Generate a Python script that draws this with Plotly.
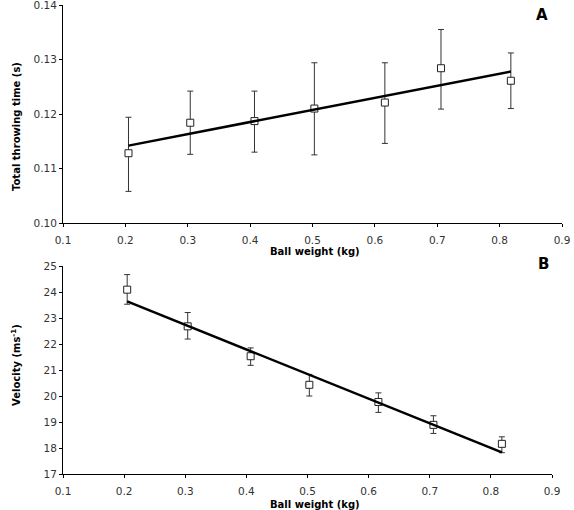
import plotly.graph_objects as go

# Ball weights (kg), shared by both panels
ball_kg = [0.205, 0.304, 0.407, 0.503, 0.616, 0.706, 0.818]

# Panel A: total throwing time (s)
t_mean = [0.1128, 0.1184, 0.1187, 0.1210, 0.1221, 0.1284, 0.1261]
t_up = [0.1194, 0.1242, 0.1242, 0.1294, 0.1294, 0.1355, 0.1312]
t_lo = [0.1058, 0.1126, 0.1130, 0.1125, 0.1146, 0.1209, 0.1210]
trend_a_y = [0.1142, 0.1278]

# Panel B: velocity (m/s)
v_mean = [24.09, 22.68, 21.53, 20.43, 19.77, 18.89, 18.16]
v_up = [24.67, 23.21, 21.85, 20.83, 20.12, 19.24, 18.43]
v_lo = [23.53, 22.19, 21.18, 20.00, 19.37, 18.56, 17.82]
trend_b_y = [23.64, 17.83]

x_ticks = [0.1, 0.2, 0.3, 0.4, 0.5, 0.6, 0.7, 0.8, 0.9]
x_ticklabels = ["0.1", "0.2", "0.3", "0.4", "0.5", "0.6", "0.7", "0.8", "0.9"]
ya_ticks = [0.10, 0.11, 0.12, 0.13, 0.14]
ya_ticklabels = ["0.10", "0.11", "0.12", "0.13", "0.14"]
yb_ticks = [17, 18, 19, 20, 21, 22, 23, 24, 25]

W, H = 574, 510
TICK_FONT = "DejaVu Sans, sans-serif"
TITLE_FONT = "DejaVu Sans, sans-serif"
ERR_COLOR = "#333333"

fig = go.Figure()

def add_panel(x, mean, up, lo, trend_y, xa, ya):
    fig.add_trace(go.Scatter(
        x=x, y=mean, mode="markers", xaxis=xa, yaxis=ya,
        marker=dict(symbol="square", size=7, color="white",
                    line=dict(color="#222222", width=1)),
        error_y=dict(type="data", symmetric=False,
                     array=[u - m for u, m in zip(up, mean)],
                     arrayminus=[m - l for m, l in zip(mean, lo)],
                     color=ERR_COLOR, thickness=1, width=3),
        showlegend=False))
    fig.add_trace(go.Scatter(
        x=[x[0], x[-1]], y=trend_y, mode="lines", xaxis=xa, yaxis=ya,
        line=dict(color="black", width=2.5), showlegend=False, hoverinfo="skip"))

add_panel(ball_kg, t_mean, t_up, t_lo, trend_a_y, "x", "y")
add_panel(ball_kg, v_mean, v_up, v_lo, trend_b_y, "x2", "y2")

axis_common = dict(showline=True, linecolor="black", linewidth=1,
                   ticks="outside", ticklen=3, tickcolor="black",
                   showgrid=False, zeroline=False, automargin=False,
                   ticklabeloverflow="allow",
                   tickfont=dict(family=TICK_FONT, size=10.5, color="#333333"))

fig.update_layout(
    width=W, height=H,
    margin=dict(l=0, r=0, t=0, b=0),
    paper_bgcolor="white", plot_bgcolor="white",
    xaxis=dict(domain=[63 / W, 562 / W], range=[0.1, 0.9], ticklabelstandoff=4,
               tickvals=x_ticks, ticktext=x_ticklabels, anchor="y", **axis_common),
    yaxis=dict(domain=[1 - 223 / H, 1 - 5 / H], range=[0.10, 0.14], ticklabelstandoff=0,
               tickvals=ya_ticks, ticktext=ya_ticklabels, anchor="x", **axis_common),
    xaxis2=dict(domain=[63 / W, 552 / W], range=[0.1, 0.9], ticklabelstandoff=4,
                tickvals=x_ticks, ticktext=x_ticklabels, anchor="y2", **axis_common),
    yaxis2=dict(domain=[1 - 474 / H, 1 - 266 / H], range=[17, 25], ticklabelstandoff=0,
                tickvals=yb_ticks, anchor="x2", **axis_common),
)

title_font = dict(family=TITLE_FONT, size=10, color="black")
annotations = [
    dict(text="<b>Total throwing time (s)</b>", x=16 / W, y=1 - 127 / H, textangle=-90),
    dict(text="<b>Ball weight (kg)</b>", x=315 / W, y=1 - 251 / H, textangle=0),
    dict(text="<b>Velocity (ms<sup>-1</sup>)</b>", x=16 / W, y=1 - 365 / H, textangle=-90),
    dict(text="<b>Ball weight (kg)</b>", x=315 / W, y=1 - 504 / H, textangle=0),
]
for a in annotations:
    fig.add_annotation(xref="paper", yref="paper", showarrow=False,
                       xanchor="center", yanchor="middle", font=title_font, **a)

for txt, px, py in [("A", 542, 15), ("B", 543, 264)]:
    fig.add_annotation(text="<b>%s</b>" % txt, xref="paper", yref="paper",
                       x=px / W, y=1 - py / H, showarrow=False,
                       xanchor="center", yanchor="middle",
                       font=dict(family=TITLE_FONT, size=15, color="black"))

fig.write_html("out.html", config={"displayModeBar": False},
               post_script="document.body.style.margin='0';document.body.style.padding='0';")
